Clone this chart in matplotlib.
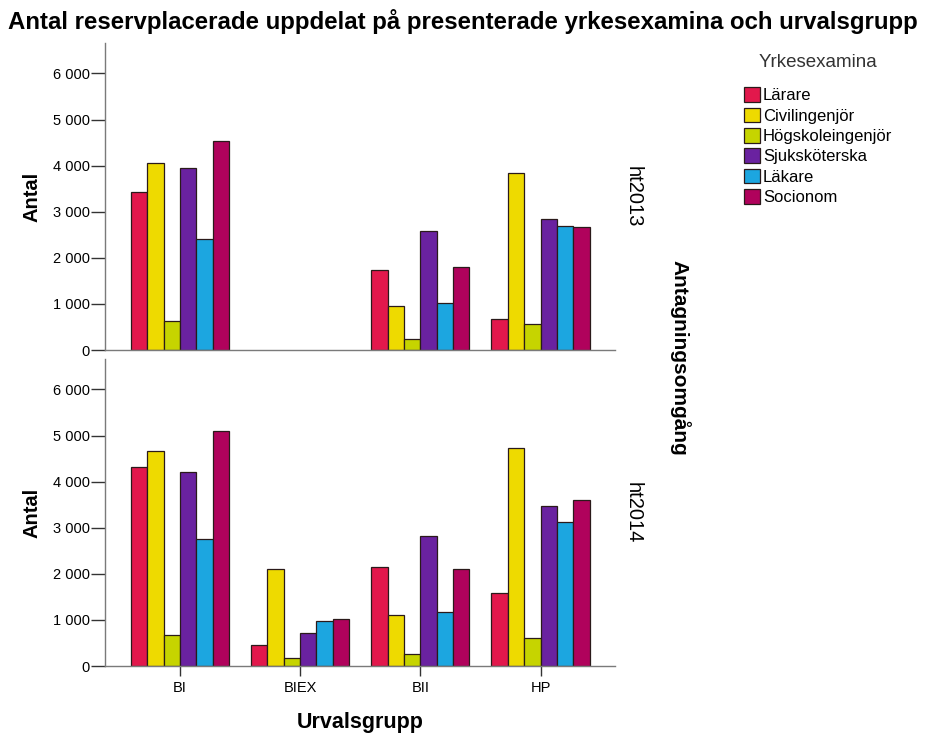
import matplotlib
matplotlib.use("Agg")
import matplotlib.pyplot as plt
import numpy as np

# data
groups = ["BI", "BIEX", "BII", "HP"]
exams = ["Lärare", "Civilingenjör", "Högskoleingenjör", "Sjuksköterska", "Läkare", "Socionom"]
colors = ["#E2184C", "#EEDA00", "#C6D400", "#6A22A0", "#1CA6E0", "#B0025C"]
rounds = ["ht2013", "ht2014"]

# rows = exams, columns = groups (BIEX missing in ht2013)
ht2013 = [
    [3430, 0, 1740, 670],
    [4050, 0, 950, 3850],
    [630, 0, 230, 560],
    [3955, 0, 2580, 2835],
    [2400, 0, 1020, 2690],
    [4540, 0, 1810, 2675],
]
ht2014 = [
    [4320, 455, 2155, 1575],
    [4670, 2105, 1105, 4720],
    [670, 165, 255, 615],
    [4200, 725, 2820, 3470],
    [2755, 975, 1165, 3130],
    [5090, 1020, 2100, 3600],
]

plt.rcParams['font.family'] = ['Liberation Sans', 'DejaVu Sans']

fig = plt.figure(figsize=(9.25, 7.33), dpi=100)
ax_top = fig.add_axes([0.1135, 0.5225, 0.5514, 0.4188])
ax_bot = fig.add_axes([0.1135, 0.0914, 0.5514, 0.4188])

x = np.arange(len(groups))
width = 0.136
axis_col = "#7a7a7a"


def thousands(v, pos=None):
    return f"{int(v):,}".replace(",", " ")


for ax, data, label in [(ax_top, ht2013, rounds[0]), (ax_bot, ht2014, rounds[1])]:
    for i, (vals, col) in enumerate(zip(data, colors)):
        xs = x + (i - 2.5) * width
        vals = np.array(vals, dtype=float)
        keep = vals > 0
        ax.bar(xs[keep], vals[keep], width=width, color=col,
               edgecolor="#2a1a1a", linewidth=0.9, label=exams[i], zorder=2)
    ax.set_xlim(-0.623, 3.62)
    ax.set_ylim(0, 6660)
    ax.set_yticks(range(0, 7000, 1000))
    ax.yaxis.set_major_formatter(matplotlib.ticker.FuncFormatter(thousands))
    for s in ["top", "right"]:
        ax.spines[s].set_visible(False)
    ax.spines["left"].set_color(axis_col)
    ax.spines["bottom"].set_color(axis_col)
    ax.spines["left"].set_linewidth(1.0)
    ax.spines["bottom"].set_linewidth(1.0)
    ax.tick_params(axis="y", length=10, width=1, color="#333333", labelsize=10.5, pad=1)
    ax.set_ylabel("Antal", fontsize=14.5, fontweight="bold", labelpad=8)
    ax.text(1.035, 0.5, label, transform=ax.transAxes, rotation=-90,
            ha="center", va="center", fontsize=14.5)

ax_top.set_xticks([])
ax_bot.set_xticks(x)
ax_bot.set_xticklabels(groups, fontsize=10.5)
ax_bot.tick_params(axis="x", length=7, width=1, color="#333333", pad=4)
ax_bot.set_xlabel("Urvalsgrupp", fontsize=15.5, fontweight="bold", labelpad=12)

fig.text(0.735, 0.512, "Antagningsomgång", rotation=-90, ha="center", va="center",
         fontsize=15, fontweight="bold")

fig.suptitle("Antal reservplacerade uppdelat på presenterade yrkesexamina och urvalsgrupp",
             x=0.5, y=0.988, fontsize=17.3, fontweight="bold")

handles, labels = ax_bot.get_legend_handles_labels()
fig.text(0.884, 0.915, "Yrkesexamina", ha="center", va="center", fontsize=13.5,
         color="#333333")
fig.legend(handles, labels, loc="upper left", bbox_to_anchor=(0.804, 0.881),
           frameon=False, fontsize=12,
           handlelength=0.95, handleheight=1.0, handletextpad=0.2,
           labelspacing=0.25, borderpad=0.0, borderaxespad=0.0)

fig.savefig("out.png", dpi=100, facecolor="white")
